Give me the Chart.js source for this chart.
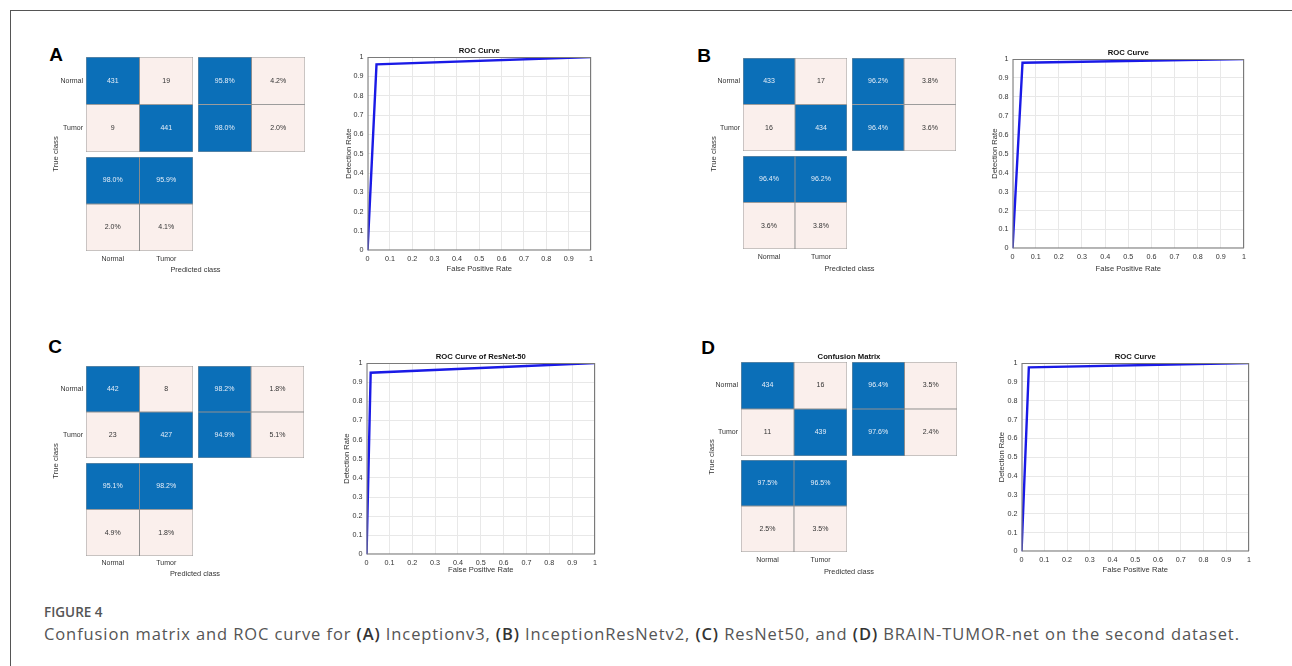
<!DOCTYPE html>
<html>
<head>
<meta charset="utf-8">
<script src="https://cdn.jsdelivr.net/npm/chart.js@4.4.1/dist/chart.umd.min.js"></script>
<style>
  body { margin:0; width:1292px; height:666px; background:#fff; position:relative; overflow:hidden; font-family:"Liberation Sans", Arial, sans-serif; }
  .frame { position:absolute; left:10px; top:10px; width:1290px; height:660px; border-left:1.5px solid #555; border-top:1.5px solid #555; }
  .box { position:absolute; }
  .txt { position:absolute; white-space:nowrap; color:#333; transform:translate(-50%,-50%); }
  .letter { font-size:19px; font-weight:bold; color:#000; }
  .cap1 { position:absolute; left:44px; top:603px; font-family:"Open Sans", sans-serif; font-weight:600; font-size:13.5px; color:#555; }
  .cap2 { position:absolute; left:44px; top:622px; font-family:"Open Sans", sans-serif; font-size:16.5px; letter-spacing:0.9px; color:#555; white-space:nowrap; }
  .cap2 b { color:#333; font-weight:600; }
</style>
</head>
<body>
<div class="frame"></div>
<div class="cap1">FIGURE 4</div>
<div class="cap2">Confusion matrix and ROC curve for <b>(A)</b> Inceptionv3, <b>(B)</b> InceptionResNetv2, <b>(C)</b> ResNet50, and <b>(D)</b> BRAIN-TUMOR-net on the second dataset.</div>
<script>
// confusion matrices: rows = true class, cols = predicted class
const classes = ['Normal', 'Tumor'];

const countsA = [[431, 19], [9, 441]];
const rowPctA = [[95.8, 4.2], [98.0, 2.0]];
const colPctA = [[98.0, 95.9], [2.0, 4.1]];

const countsB = [[433, 17], [16, 434]];
const rowPctB = [[96.2, 3.8], [96.4, 3.6]];
const colPctB = [[96.4, 96.2], [3.6, 3.8]];

const countsC = [[442, 8], [23, 427]];
const rowPctC = [[98.2, 1.8], [94.9, 5.1]];
const colPctC = [[95.1, 98.2], [4.9, 1.8]];

const countsD = [[434, 16], [11, 439]];
const rowPctD = [[96.4, 3.5], [97.6, 2.4]];
const colPctD = [[97.5, 96.5], [2.5, 3.5]];

// ROC curves
const rocFprA = [0, 0.04, 1];
const rocTprA = [0, 0.962, 1];
const rocFprB = [0, 0.043, 1];
const rocTprB = [0, 0.98, 1];
const rocFprC = [0, 0.018, 1];
const rocTprC = [0, 0.949, 1];
const rocFprD = [0, 0.032, 1];
const rocTprD = [0, 0.977, 1];

const rocTicks = ['0', '0.1', '0.2', '0.3', '0.4', '0.5', '0.6', '0.7', '0.8', '0.9', '1'];
const rocTitles = ['ROC Curve', 'ROC Curve', 'ROC Curve of ResNet-50', 'ROC Curve'];

// placement of each panel on the page
const panels = [
  { letter: 'A', letterAt: [56, 55], counts: countsA, rowPct: rowPctA, colPct: colPctA, fpr: rocFprA, tpr: rocTprA,
    cm: { main: [86, 57, 193, 152], rightX: [198, 305], botY: [157, 251], rowLab: 83, colLabY: 259, trueX: 55, predY: 269 },
    roc: { plot: [368, 57, 592, 251], yTitleX: 349, xTitleY: 269, titleY: 51 } },
  { letter: 'B', letterAt: [704, 56], counts: countsB, rowPct: rowPctB, colPct: colPctB, fpr: rocFprB, tpr: rocTprB,
    cm: { main: [743, 58, 847, 151], rightX: [852, 956], botY: [156, 249], rowLab: 740, colLabY: 257, trueX: 713, predY: 268 },
    roc: { plot: [1013, 59, 1245, 249], yTitleX: 995, xTitleY: 269, titleY: 53 } },
  { letter: 'C', letterAt: [55, 347], counts: countsC, rowPct: rowPctC, colPct: colPctC, fpr: rocFprC, tpr: rocTprC,
    cm: { main: [86, 366, 193, 458], rightX: [198, 304], botY: [463, 556], rowLab: 83, colLabY: 563, trueX: 55, predY: 573 },
    roc: { plot: [367, 363, 596, 555], yTitleX: 347, xTitleY: 570, titleY: 357 } },
  { letter: 'D', letterAt: [708, 348], counts: countsD, rowPct: rowPctD, colPct: colPctD, fpr: rocFprD, tpr: rocTprD,
    cm: { main: [741, 362, 847, 456], rightX: [852, 957], botY: [460, 552], rowLab: 738, colLabY: 560, trueX: 711, predY: 571, title: 'Confusion Matrix', titleY: 356 },
    roc: { plot: [1022, 363, 1250, 552], yTitleX: 1002, xTitleY: 570, titleY: 357 } }
];

const BLUE = '#0b6fb8', PALE = '#faefec', EDGE = 'rgba(80,80,80,0.6)';
const FONT = '"Liberation Sans", Arial, sans-serif';

function addCanvas(l, t, w, h) {
  const d = document.createElement('div');
  d.className = 'box';
  d.style.cssText = `left:${l}px;top:${t}px;width:${w}px;height:${h}px`;
  const c = document.createElement('canvas');
  c.width = w; c.height = h;
  d.appendChild(c);
  document.body.appendChild(d);
  return c;
}

function addText(text, cx, cy, css, rot) {
  const d = document.createElement('div');
  d.className = 'txt';
  d.textContent = text;
  if (css) d.style.cssText = css;
  d.style.left = cx + 'px';
  d.style.top = cy + 'px';
  if (rot) d.style.transform = 'translate(-50%,-50%) rotate(-90deg)';
  document.body.appendChild(d);
  return d;
}

const cellText = {
  id: 'cellText',
  afterDatasetsDraw(chart) {
    const ctx = chart.ctx;
    ctx.save();
    ctx.font = '7px ' + FONT;
    ctx.textAlign = 'center';
    ctx.textBaseline = 'middle';
    chart.data.datasets.forEach((ds, di) => {
      chart.getDatasetMeta(di).data.forEach((bar, i) => {
        const p = bar.getCenterPoint();
        ctx.fillStyle = ds.backgroundColor[i] === BLUE ? '#e6eef8' : '#333';
        ctx.fillText(ds.cellLabels[i], p.x, p.y);
      });
    });
    ctx.restore();
  }
};

const barBase = { barPercentage: 1, categoryPercentage: 1, borderWidth: 0.8, borderColor: EDGE, borderSkipped: false };
const pct = v => v.toFixed(1) + '%';

function cmBlock(canvas, datasets, horizontal, axisOpts) {
  const cat = Object.assign({ display: false, stacked: true, grid: { display: false, drawTicks: false }, border: { display: false } }, axisOpts || {});
  const val = { display: false, stacked: true, min: 0, max: 2, reverse: !horizontal };
  return new Chart(canvas, {
    type: 'bar',
    data: { labels: classes, datasets: datasets.map(d => Object.assign({}, barBase, d)) },
    options: {
      indexAxis: horizontal ? 'y' : 'x',
      responsive: false, animation: false, devicePixelRatio: 1,
      layout: { padding: horizontal ? { top: 10, bottom: 10 } : { left: 10, right: 10 } },
      plugins: { legend: { display: false }, tooltip: { enabled: false } },
      scales: horizontal ? { y: cat, x: val } : { x: cat, y: val }
    },
    plugins: [cellText]
  });
}

function drawConfusion(p) {
  const g = p.cm;
  const [l, t, r, b] = g.main;
  const labW = 50;
  // main counts: horizontal bars, one dataset per predicted column
  const mainSets = [0, 1].map(j => ({
    data: [1, 1],
    backgroundColor: [0, 1].map(i => i === j ? BLUE : PALE),
    cellLabels: [0, 1].map(i => String(p.counts[i][j]))
  }));
  cmBlock(addCanvas(l - labW, t - 10, r - l + labW, b - t + 20), mainSets, true, {
    display: true,
    ticks: { padding: l - g.rowLab, font: { size: 7, family: FONT }, color: '#333' },
    afterFit(s) { s.width = labW; }
  });
  // row summary
  const rightSets = [0, 1].map(j => ({
    data: [1, 1],
    backgroundColor: [0, 1].map(() => j === 0 ? BLUE : PALE),
    cellLabels: [0, 1].map(i => pct(p.rowPct[i][j]))
  }));
  cmBlock(addCanvas(g.rightX[0], t - 10, g.rightX[1] - g.rightX[0], b - t + 20), rightSets, true);
  // column summary
  const [bt, bb] = g.botY;
  const labH = g.colLabY + 8 - bb;
  const botSets = [0, 1].map(rr => ({
    data: [1, 1],
    backgroundColor: [0, 1].map(() => rr === 0 ? BLUE : PALE),
    cellLabels: [0, 1].map(j => pct(p.colPct[rr][j]))
  }));
  cmBlock(addCanvas(l - 10, bt, r - l + 20, bb - bt + labH), botSets, false, {
    display: true,
    ticks: { padding: g.colLabY - 4 - bb, font: { size: 7, family: FONT }, color: '#333' },
    afterFit(s) { s.height = labH; }
  });
  addText('True class', g.trueX, (t + bb) / 2, 'font-size:7.8px', true);
  addText('Predicted class', (l + g.rightX[1]) / 2, g.predY, 'font-size:7.4px');
  if (g.title) addText(g.title, (l + g.rightX[1]) / 2, g.titleY, 'font-size:7.7px;font-weight:bold;color:#111');
}

const rocFrame = {
  id: 'rocFrame',
  afterDraw(chart) {
    const a = chart.chartArea, ctx = chart.ctx;
    const o = chart.options.plugins.rocFrame;
    ctx.save();
    ctx.strokeStyle = '#7a7a7a';
    ctx.lineWidth = 1;
    ctx.strokeRect(a.left + 0.5, a.top + 0.5, a.right - a.left - 1, a.bottom - a.top - 1);
    ctx.fillStyle = '#111';
    ctx.font = 'bold 7.7px ' + FONT;
    ctx.textAlign = 'center';
    ctx.textBaseline = 'middle';
    ctx.fillText(o.text, (a.left + a.right) / 2, a.top - o.gap);
    ctx.restore();
  }
};

function drawRoc(p, title) {
  const g = p.roc;
  const [l, t, r, b] = g.plot;
  const fs = 7.6, lh = fs * 1.2;
  const W = l - (g.yTitleX - lh / 2);
  const H = (g.xTitleY + lh / 2) - b;
  const padTop = 14, padRight = 8;
  const canvas = addCanvas(l - W, t - padTop, r - l + W + padRight, b - t + padTop + H);
  const tickFont = { size: 7.2, family: FONT };
  const axis = (label, size, fit) => ({
    type: 'linear', min: 0, max: 1,
    ticks: { stepSize: 0.1, padding: size, font: tickFont, color: '#333', callback: (v, i) => rocTicks[i] },
    grid: { color: '#e8e8e8', drawTicks: false },
    border: { display: false },
    title: { display: true, text: label, padding: 0, font: { size: fs, family: FONT }, color: '#333' },
    afterFit: fit
  });
  new Chart(canvas, {
    type: 'line',
    data: { datasets: [{ data: p.fpr.map((x, i) => ({ x: x, y: p.tpr[i] })), borderColor: '#1a1ae6', borderWidth: 2.4, pointRadius: 0, tension: 0 }] },
    options: {
      responsive: false, animation: false, devicePixelRatio: 1,
      layout: { padding: { top: padTop, right: padRight } },
      plugins: { legend: { display: false }, tooltip: { enabled: false }, rocFrame: { text: title, gap: t - g.titleY } },
      scales: {
        x: axis('False Positive Rate', 4, s => { s.height = H; }),
        y: axis('Detection Rate', 4, s => { s.width = W; })
      }
    },
    plugins: [rocFrame]
  });
}

panels.forEach((p, k) => {
  addText(p.letter, p.letterAt[0], p.letterAt[1], null, false).classList.add('letter');
  drawConfusion(p);
  drawRoc(p, rocTitles[k]);
});
</script>
</body>
</html>
